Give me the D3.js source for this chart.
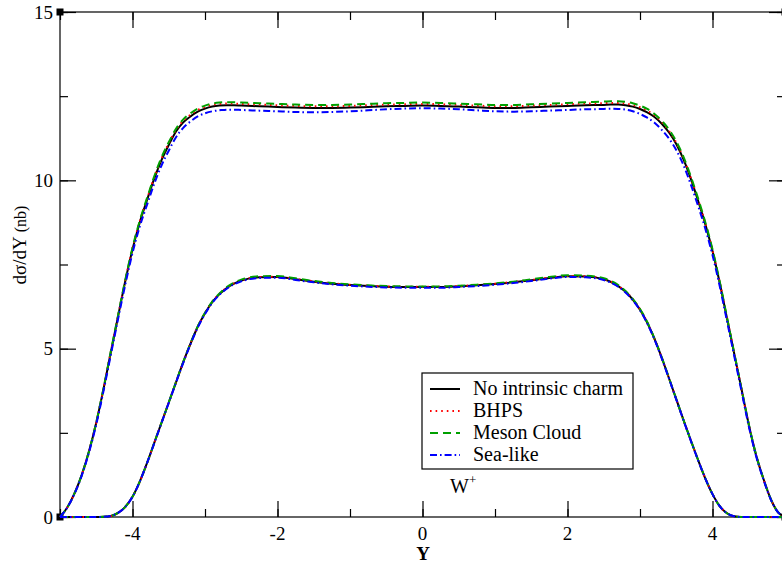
<!DOCTYPE html>
<html>
<head>
<meta charset="utf-8">
<script src="https://cdn.jsdelivr.net/npm/d3@7"></script>
<style>
  html, body { margin: 0; padding: 0; background: #fff; }
  svg { display: block; }
</style>
</head>
<body>
<svg id="chart" width="782" height="566"></svg>
<script>
// ---------- data ----------
const xGrid = [
  -5.0,-4.9,-4.8,-4.7,-4.6,-4.5,-4.4,-4.3,-4.2,-4.1,-4.0,-3.9,-3.8,-3.7,-3.6,-3.5,-3.4,-3.3,-3.2,-3.1,-3.0,-2.9,-2.8,-2.7,-2.6,-2.5,
  -2.25,-2.0,-1.75,-1.5,-1.25,-1.0,-0.75,-0.5,-0.25,0,0.25,0.5,0.75,1.0,1.25,1.5,1.75,2.0,2.25,
  2.5,2.6,2.7,2.8,2.9,3.0,3.1,3.2,3.3,3.4,3.5,3.6,3.7,3.8,3.9,4.0,4.1,4.2,4.3,4.4,4.5,4.6,4.7,4.8,4.9,5.0
];

// upper group
const upperNone = [
  0.00,0.28,0.70,1.25,1.95,2.80,3.80,4.88,5.95,7.00,7.95,8.75,9.41,10.05,10.60,11.05,11.45,11.72,11.90,12.04,12.13,12.19,12.22,12.23,12.23,12.22,
  12.20,12.18,12.16,12.15,12.15,12.16,12.18,12.20,12.21,12.22,12.21,12.19,12.17,12.15,12.15,12.17,12.19,12.21,12.23,
  12.24,12.25,12.25,12.23,12.19,12.12,12.02,11.88,11.68,11.42,11.08,10.62,10.05,9.40,8.70,7.90,6.95,5.90,4.85,3.80,2.75,1.85,1.15,0.55,0.15,0.00
];
const upperBHPS = [
  0.00,0.28,0.70,1.25,1.95,2.80,3.81,4.90,5.97,7.02,7.98,8.78,9.44,10.09,10.65,11.10,11.50,11.77,11.95,12.09,12.18,12.24,12.27,12.28,12.28,12.27,
  12.25,12.23,12.21,12.20,12.20,12.21,12.23,12.25,12.26,12.27,12.26,12.24,12.22,12.20,12.20,12.22,12.24,12.26,12.28,
  12.29,12.30,12.30,12.28,12.24,12.17,12.07,11.93,11.73,11.47,11.12,10.66,10.08,9.43,8.73,7.92,6.97,5.91,4.86,3.80,2.75,1.85,1.15,0.55,0.15,0.00
];
const upperMeson = [
  0.00,0.28,0.70,1.25,1.95,2.81,3.82,4.91,5.98,7.04,8.00,8.80,9.47,10.12,10.68,11.13,11.53,11.81,11.99,12.13,12.22,12.28,12.31,12.32,12.32,12.31,
  12.29,12.27,12.25,12.24,12.24,12.25,12.27,12.29,12.30,12.31,12.30,12.28,12.26,12.24,12.24,12.26,12.28,12.30,12.32,
  12.34,12.35,12.35,12.33,12.29,12.22,12.12,11.97,11.77,11.51,11.16,10.70,10.12,9.47,8.76,7.95,6.99,5.93,4.87,3.81,2.76,1.86,1.15,0.55,0.15,0.00
];
const upperSea = [
  0.00,0.28,0.69,1.23,1.92,2.75,3.74,4.81,5.87,6.90,7.84,8.63,9.27,9.90,10.44,10.88,11.28,11.56,11.75,11.90,11.99,12.05,12.08,12.10,12.10,12.09,
  12.07,12.05,12.03,12.02,12.03,12.05,12.08,12.11,12.13,12.14,12.13,12.11,12.08,12.05,12.04,12.05,12.07,12.09,12.11,
  12.12,12.13,12.12,12.10,12.05,11.97,11.86,11.71,11.50,11.24,10.90,10.45,9.88,9.25,8.57,7.78,6.85,5.82,4.78,3.74,2.70,1.82,1.13,0.54,0.15,0.00
];

// lower group
const lowerNone = [
  0,0,0,0,0,0,0.005,0.03,0.12,0.30,0.60,1.05,1.60,2.20,2.80,3.40,4.00,4.60,5.15,5.65,6.05,6.38,6.62,6.80,6.93,7.02,
  7.12,7.13,7.06,6.99,6.93,6.89,6.86,6.84,6.83,6.83,6.83,6.85,6.88,6.92,6.97,7.03,7.10,7.15,7.14,
  7.06,6.98,6.86,6.69,6.46,6.16,5.77,5.29,4.73,4.12,3.50,2.88,2.28,1.70,1.15,0.68,0.32,0.11,0.02,0,0,0,0,0,0,0
];
const lowerBHPS = [
  0,0,0,0,0,0,0.005,0.03,0.12,0.30,0.60,1.05,1.60,2.20,2.80,3.40,4.00,4.60,5.15,5.65,6.06,6.39,6.63,6.81,6.94,7.03,
  7.13,7.14,7.07,7.00,6.94,6.90,6.87,6.85,6.84,6.84,6.84,6.86,6.89,6.93,6.98,7.04,7.11,7.16,7.15,
  7.07,6.99,6.87,6.70,6.47,6.17,5.78,5.29,4.73,4.12,3.50,2.88,2.28,1.70,1.15,0.68,0.32,0.11,0.02,0,0,0,0,0,0,0
];
const lowerMeson = [
  0,0,0,0,0,0,0.005,0.03,0.12,0.30,0.60,1.05,1.60,2.20,2.80,3.40,4.01,4.61,5.16,5.66,6.07,6.40,6.64,6.83,6.96,7.05,
  7.15,7.16,7.09,7.01,6.95,6.91,6.88,6.86,6.85,6.85,6.85,6.87,6.90,6.94,6.99,7.06,7.13,7.18,7.17,
  7.09,7.01,6.89,6.71,6.48,6.18,5.79,5.30,4.74,4.13,3.50,2.88,2.28,1.70,1.15,0.68,0.32,0.11,0.02,0,0,0,0,0,0,0
];
const lowerSea = [
  0,0,0,0,0,0,0.005,0.03,0.12,0.30,0.60,1.05,1.60,2.19,2.79,3.39,3.99,4.58,5.13,5.63,6.03,6.36,6.60,6.78,6.91,7.00,
  7.10,7.11,7.04,6.97,6.91,6.87,6.84,6.82,6.81,6.81,6.81,6.83,6.86,6.90,6.95,7.01,7.08,7.13,7.12,
  7.04,6.96,6.84,6.67,6.44,6.14,5.75,5.27,4.71,4.11,3.49,2.87,2.27,1.69,1.15,0.68,0.32,0.11,0.02,0,0,0,0,0,0,0
];

const seriesNames = ["No intrinsic charm", "BHPS", "Meson Cloud", "Sea-like"];
const upperSets = [upperNone, upperBHPS, upperMeson, upperSea];
const lowerSets = [lowerNone, lowerBHPS, lowerMeson, lowerSea];

const xTickLabels = [-4, -2, 0, 2, 4];
const yTickLabels = [0, 5, 10, 15];
const xMinorTicks = [-5, -4, -3, -2, -1, 0, 1, 2, 3, 4, 5];
const yMinorTicks = [0, 2.5, 5, 7.5, 10, 12.5, 15];

// ---------- styles ----------
const FONT = "'Liberation Serif', 'Times New Roman', 'DejaVu Serif', serif";
const colors = ["#000000", "#ff0000", "#00a000", "#0000ff"];
const dashes = [null, "1.6,4", "8,5", "7,3,1.6,3"];

// ---------- layout ----------
const svg = d3.select("#chart").attr("font-family", FONT);
const L = 60, T = 12, R = 785, B = 517;

const x = d3.scaleLinear().domain([-5, 5]).range([L, R]);
const y = d3.scaleLinear().domain([0, 15]).range([B, T]);

svg.append("rect").attr("width", 782).attr("height", 566).attr("fill", "#fff");

svg.append("defs").append("clipPath").attr("id", "clip")
  .append("rect").attr("x", L - 1).attr("y", T - 1).attr("width", R - L + 2).attr("height", B - T + 2);

// corner markers
[[L, T], [L, B], [R, T], [R, B]].forEach(([cx, cy]) => {
  svg.append("rect").attr("x", cx - 3.5).attr("y", cy - 3.5).attr("width", 7).attr("height", 7).attr("fill", "#000");
});

// frame
svg.append("rect").attr("x", L).attr("y", T).attr("width", R - L).attr("height", B - T)
  .attr("fill", "none").attr("stroke", "#000").attr("stroke-width", 1.2);

// axes (ticks inward on all sides)
const axes = [
  svg.append("g").attr("transform", `translate(0,${B})`).call(d3.axisTop(x).tickValues(xMinorTicks).tickSize(8).tickFormat("")),
  svg.append("g").attr("transform", `translate(0,${B})`).call(d3.axisTop(x).tickValues(xTickLabels).tickSize(16).tickFormat("")),
  svg.append("g").attr("transform", `translate(0,${T})`).call(d3.axisBottom(x).tickValues(xMinorTicks).tickSize(8).tickFormat("")),
  svg.append("g").attr("transform", `translate(0,${T})`).call(d3.axisBottom(x).tickValues(xTickLabels).tickSize(16).tickFormat("")),
  svg.append("g").attr("transform", `translate(${L},0)`).call(d3.axisRight(y).tickValues(yMinorTicks).tickSize(8).tickFormat("")),
  svg.append("g").attr("transform", `translate(${L},0)`).call(d3.axisRight(y).tickValues(yTickLabels).tickSize(16).tickFormat("")),
  svg.append("g").attr("transform", `translate(${R},0)`).call(d3.axisLeft(y).tickValues(yMinorTicks).tickSize(8).tickFormat("")),
  svg.append("g").attr("transform", `translate(${R},0)`).call(d3.axisLeft(y).tickValues(yTickLabels).tickSize(16).tickFormat(""))
];
axes.forEach(g => {
  g.select(".domain").remove();
  g.selectAll("line").attr("stroke", "#000").attr("stroke-width", 1.2);
});

// tick labels
svg.append("g").selectAll("text").data(xTickLabels).join("text")
  .attr("font-family", FONT)
  .attr("x", d => x(d)).attr("y", 540)
  .attr("text-anchor", "middle").attr("font-size", 19).attr("fill", "#000")
  .text(d => d);
svg.append("g").selectAll("text").data(yTickLabels).join("text")
  .attr("font-family", FONT)
  .attr("x", 53).attr("y", d => y(d) + 6.5)
  .attr("text-anchor", "end").attr("font-size", 19).attr("fill", "#000")
  .text(d => d);

// axis titles
svg.append("text").attr("font-family", FONT).attr("x", 423).attr("y", 560).attr("text-anchor", "middle")
  .attr("font-size", 19).attr("font-weight", "bold").attr("fill", "#000").text("Y");

const yt = svg.append("text").attr("font-family", FONT).attr("transform", "translate(26,245) rotate(-90)")
  .attr("text-anchor", "middle").attr("fill", "#000");
yt.append("tspan").attr("font-size", 19).text("dσ/dY");
yt.append("tspan").attr("font-size", 16).text(" (nb)");

// curves
const line = d3.line()
  .x((d, i) => x(xGrid[i]))
  .y(d => y(d))
  .curve(d3.curveMonotoneX);

const gCurves = svg.append("g").attr("clip-path", "url(#clip)");
[0, 1, 2, 3].forEach(k => {
  [upperSets[k], lowerSets[k]].forEach(data => {
    gCurves.append("path").attr("d", line(data))
      .attr("fill", "none").attr("stroke", colors[k]).attr("stroke-width", 2)
      .attr("stroke-dasharray", dashes[k]);
  });
});

// legend
const lg = svg.append("g");
lg.append("rect").attr("x", 422).attr("y", 373).attr("width", 211).attr("height", 96)
  .attr("fill", "#fff").attr("stroke", "#000").attr("stroke-width", 1.2);
seriesNames.forEach((name, k) => {
  const by = 395 + k * 22;
  lg.append("line").attr("x1", 430).attr("x2", 460).attr("y1", by - 6).attr("y2", by - 6)
    .attr("stroke", colors[k]).attr("stroke-width", 2).attr("stroke-dasharray", dashes[k]);
  lg.append("text").attr("font-family", FONT).attr("x", 473).attr("y", by)
    .attr("font-size", 20).attr("fill", "#000").text(name);
});

// W+ label
const wl = svg.append("text").attr("font-family", FONT).attr("x", 450).attr("y", 493)
  .attr("font-size", 20).attr("fill", "#000");
wl.append("tspan").text("W");
wl.append("tspan").attr("font-size", 13).attr("dy", -9).text("+");
</script>
</body>
</html>
